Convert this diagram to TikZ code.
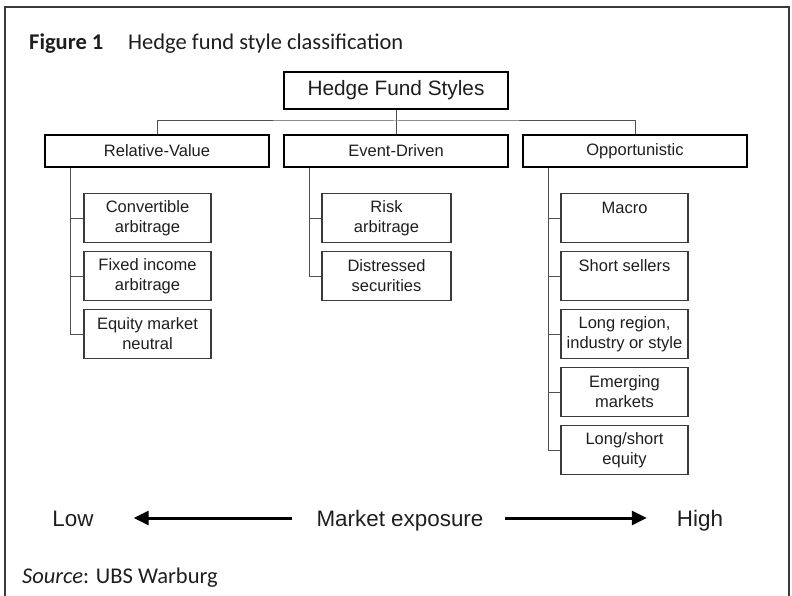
\documentclass[tikz,border=0pt]{standalone}
\usepackage{fontspec}
\setmainfont{Liberation Sans}
\newfontfamily\captionfont{Carlito}
\usetikzlibrary{arrows.meta}

\definecolor{ink}{HTML}{1E1E1E}
\definecolor{rule}{HTML}{3A3A3A}
\definecolor{wire}{HTML}{505050}

\tikzset{
  topbox/.style={draw=black, line width=2.8pt, minimum width=224pt, minimum height=37pt,
    inner sep=0pt, text=ink, font=\fontsize{20.8}{24}\selectfont},
  stylebox/.style={draw=black, line width=2.8pt, minimum width=224pt, minimum height=32pt,
    inner sep=0pt, text=ink, font=\fontsize{16.5}{20}\selectfont},
  subbox/.style={draw=rule, line width=1.2pt, minimum width=127pt, minimum height=49pt,
    inner sep=0pt, align=center, text=ink, font=\fontsize{16.5}{20}\selectfont},
  wirestyle/.style={draw=wire, line width=1pt},
  scaletext/.style={inner sep=0pt, anchor=base, text=ink, font=\fontsize{22.4}{26}\selectfont},
  bigarrow/.style={line width=3pt, -{Triangle[length=15pt,width=14pt]}},
  captext/.style={inner sep=0pt, anchor=base west, text=ink, font=\captionfont\fontsize{22.5}{26}\selectfont},
}

\begin{document}
\begin{tikzpicture}[x=1pt,y=-1pt]
  \useasboundingbox (0,0) rectangle (792,596);

  % open frame
  \draw[rule, line width=1.4pt] (5,596) -- (5,7) -- (789,7) -- (789,596);

  % caption
  \node[captext] (fig) at (29,50) {\bfseries Figure 1};
  \node[captext] (title) at (128,50) {Hedge fund style classification};

  % hierarchy
  \node[topbox] (hfs) at (396,90.5) {Hedge Fund Styles};
  \node[stylebox] (rv) at (157,151) {Relative-Value};
  \node[stylebox] (ed) at (396,151) {Event-Driven};
  \node[stylebox] (opp) at (635,151) {Opportunistic};

  \coordinate (bus) at (396,121);
  \draw[wirestyle] (hfs.south) -- (ed.north);
  \draw[wirestyle] (rv.north) |- (bus) -| (opp.north);

  % relative-value strategies
  \node[subbox] (rv1) at (147.5,218) {Convertible\\arbitrage};
  \node[subbox] (rv2) at (147.5,276) {Fixed income\\arbitrage};
  \node[subbox] (rv3) at (147.5,334) {Equity market\\neutral};
  \coordinate (rvt) at ([xshift=27pt]rv.south west);
  \draw[wirestyle] (rvt) |- (rv3.west);
  \draw[wirestyle] (rvt |- rv1.west) -- (rv1.west);
  \draw[wirestyle] (rvt |- rv2.west) -- (rv2.west);

  % event-driven strategies
  \node[subbox, minimum width=129pt] (ed1) at (386.5,218) {Risk\\arbitrage};
  \node[subbox, minimum width=129pt] (ed2) at (386.5,276) {Distressed\\securities};
  \coordinate (edt) at ([xshift=27pt]ed.south west);
  \draw[wirestyle] (edt) |- (ed2.west);
  \draw[wirestyle] (edt |- ed1.west) -- (ed1.west);

  % opportunistic strategies
  \node[subbox] (op1) at (624.5,218) {Macro\\\phantom{x}};
  \node[subbox] (op2) at (624.5,276) {Short sellers\\\phantom{x}};
  \node[subbox] (op3) at (624.5,334) {Long region,\\industry or style};
  \node[subbox] (op4) at (624.5,392) {Emerging\\markets};
  \node[subbox] (op5) at (624.5,450) {Long/short\\equity};
  \coordinate (opt) at ([xshift=27pt]opp.south west);
  \draw[wirestyle] (opt) |- (op5.west);
  \foreach \c in {op1,op2,op3,op4}
    \draw[wirestyle] (opt |- \c.west) -- (\c.west);

  % market exposure scale
  \node[scaletext] (low) at (73,526) {Low};
  \node[scaletext] (me) at (400,526) {Market exposure};
  \node[scaletext] (high) at (700,526) {High};
  \coordinate (axis) at (400,518);
  \draw[bigarrow, shorten <=24pt, shorten >=40pt] (me.west |- axis) -- (low.east |- axis);
  \draw[bigarrow, shorten <=21pt, shorten >=30pt] (me.east |- axis) -- (high.west |- axis);

  % source line
  \node[captext] (src) at (22,583) {\textit{Source}: UBS Warburg};
\end{tikzpicture}
\end{document}
